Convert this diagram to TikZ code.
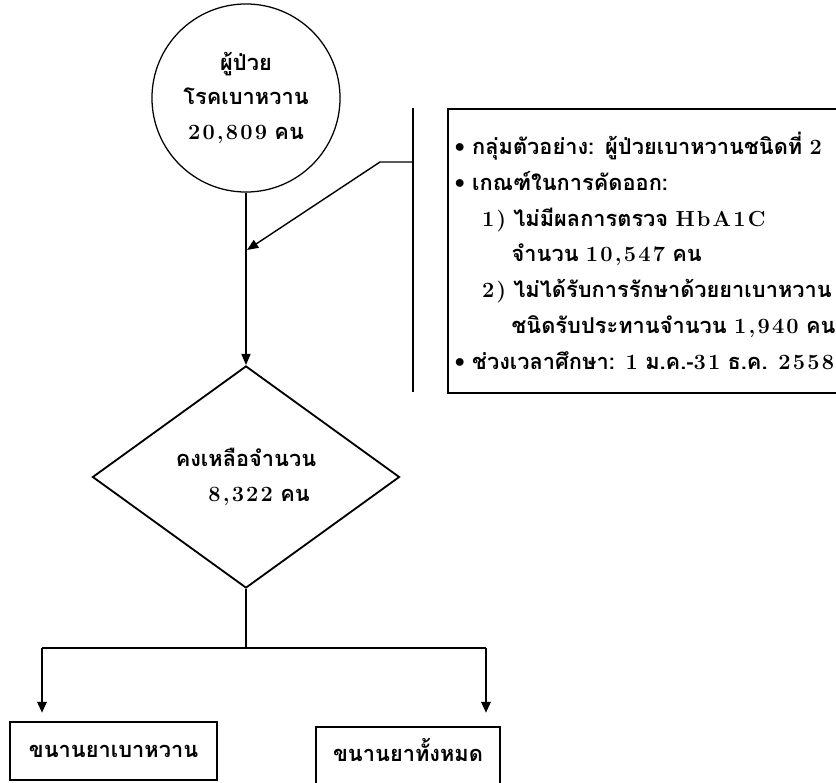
\documentclass[tikz,border=0pt]{standalone}
\usepackage{fontspec}
\setmainfont[Script=Thai]{Loma}
\newfontfamily\numfont[LetterSpace=10]{Latin Modern Roman}
\usetikzlibrary{arrows.meta,shapes.geometric}
\newcommand\nm[1]{{\numfont\bfseries #1}}

\begin{document}
\begin{tikzpicture}[x=0.025cm, y=-0.025cm, >={Triangle[length=8pt,width=6.5pt]}, font=\bfseries\fontsize{15.5}{24.5}\selectfont]
  \tikzset{
    flow/.style={->, line width=1pt},
    branch/.style={line width=2pt},
    outbox/.style={draw, line width=2pt, minimum height=1.45cm, align=center}
  }
  \useasboundingbox (0,0) rectangle (836,783);
  \clip (0,0) rectangle (836,783);

  % Main nodes
  \node[circle, draw, line width=0.9pt, minimum size=4.7cm, align=center] (patients) at (246,98)
    {ผู้ป่วย\\โรคเบาหวาน\\\nm{20,809} คน};
  \node[diamond, draw, line width=1.3pt, minimum width=7.675cm, minimum height=5.55cm, inner sep=0pt, align=center] (remain) at (246,477)
    {คงเหลือจำนวน\\\hspace{1.2em}\nm{8,322} คน};
  \node[outbox, minimum width=5.175cm] (diabdrug) at (113.5,751) {ขนานยาเบาหวาน};
  \node[outbox, minimum width=4.6cm, minimum height=1.55cm, text depth=0.4cm] (alldrug) at (408,758) {ขนานยาทั้งหมด};

  % Criteria box
  \node[draw, line width=1.2pt, anchor=north west, minimum width=11.75cm, minimum height=7.1cm,
        text width=11.4cm, inner xsep=0.15cm, align=left,
        font=\bfseries\fontsize{15.5}{25.5}\selectfont] (criteria) at (447,108)
    {\textbullet\ กลุ่มตัวอย่าง: ผู้ป่วยเบาหวานชนิดที่ \nm{2}\\
     \textbullet\ เกณฑ์ในการคัดออก:\\
     \hspace*{0.68cm}\nm{1)} ไม่มีผลการตรวจ \nm{HbA1C}\\
     \hspace*{1.42cm}จำนวน \nm{10,547} คน\\
     \hspace*{0.68cm}\nm{2)} ไม่ได้รับการรักษาด้วยยาเบาหวาน\\
     \hspace*{1.42cm}ชนิดรับประทานจำนวน \nm{1,940} คน\\
     \textbullet\ ช่วงเวลาศึกษา: \nm{1} ม.ค.-\nm{31} ธ.ค. \nm{2558}};

  % Bracket points
  \coordinate (brtop) at (413,108);
  \coordinate (brbot) at (413,392);
  \coordinate (brmid) at (413,162);
  \coordinate (brknee) at (380,162);
  \coordinate (merge) at (247,250);

  % Split points
  \coordinate (split) at (246,648);
  \coordinate (splitL) at (42,648);
  \coordinate (splitR) at (486,648);
  \coordinate (tipL) at (42,713);
  \coordinate (tipR) at (486,713);

  % Connectors
  \draw[flow] (patients) -- (remain);
  \draw[line width=1.3pt] (brtop) -- (brbot);
  \draw[flow] (brmid) -- (brknee) -- (merge);

  \draw[branch] (remain.south) -- (split);
  \draw[branch] (splitL) -- (splitR);
  \draw[branch, ->] (splitL) -- (tipL);
  \draw[branch, ->] (splitR) -- (tipR);
\end{tikzpicture}
\end{document}
